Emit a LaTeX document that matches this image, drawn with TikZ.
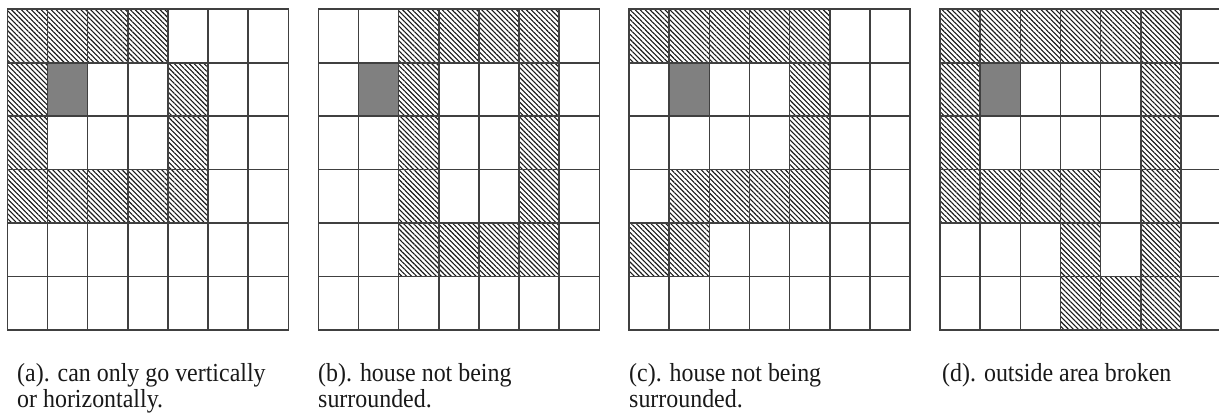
\documentclass[tikz,border=0pt]{standalone}
\usepackage{fontspec}
\setmainfont[FakeStretch=0.92]{Liberation Serif}
\usetikzlibrary{patterns.meta}
\newcommand\gcell[4]{%
  \path[#4] ({#1+#2*40.15},{409.7-#3*53.45}) rectangle ({#1+(#2+1)*40.15},{409.7-(#3+1)*53.45});}
\newcommand\ggrid[1]{%
  \foreach \i in {0,...,7} {\draw[gridline] ({#1+\i*40.15},409.7) -- ({#1+\i*40.15},88.6);}
  \foreach \j in {0,...,6} {\draw[gridline] (#1,{409.7-\j*53.45}) -- ({#1+7*40.15},{409.7-\j*53.45});}}
\begin{document}
\begin{tikzpicture}[x=1pt,y=1pt,
  gridline/.style={draw=black!75, line width=1.6pt, line cap=rect},
  hatchcell/.style={pattern={Lines[angle=-45,distance=3.5pt,line width=1.1pt]}, pattern color=black!90},
  housecell/.style={fill=black!50},
  caption/.style={anchor=north west, inner sep=0pt, align=left, text=black!90,
    font=\fontsize{26}{26.5}\selectfont}
]
\useasboundingbox (0,0) rectangle (1219,419);
\fill[white] (0,0) rectangle (1219,419);

% (a)
\foreach \c/\r in {0/0,1/0,2/0,3/0, 0/1,4/1, 0/2,4/2, 0/3,1/3,2/3,3/3,4/3} {\gcell{7.3}{\c}{\r}{hatchcell}}
\gcell{7.3}{1}{1}{housecell}
\ggrid{7.3}

% (b)
\foreach \c/\r in {2/0,3/0,4/0,5/0, 2/1,5/1, 2/2,5/2, 2/3,5/3, 2/4,3/4,4/4,5/4} {\gcell{318.3}{\c}{\r}{hatchcell}}
\gcell{318.3}{1}{1}{housecell}
\ggrid{318.3}

% (c)
\foreach \c/\r in {0/0,1/0,2/0,3/0,4/0, 4/1, 4/2, 1/3,2/3,3/3,4/3, 0/4,1/4} {\gcell{629}{\c}{\r}{hatchcell}}
\gcell{629}{1}{1}{housecell}
\ggrid{629}

% (d)
\foreach \c/\r in {0/0,1/0,2/0,3/0,4/0,5/0, 0/1,5/1, 0/2,5/2, 0/3,1/3,2/3,3/3,5/3, 3/4,5/4, 3/5,4/5,5/5} {\gcell{940}{\c}{\r}{hatchcell}}
\gcell{940}{1}{1}{housecell}
\ggrid{940}

\node[caption] (capa) at (17,56) {(a). can only go vertically\\or horizontally.};
\node[caption] (capb) at (318,56) {(b). house not being\\surrounded.};
\node[caption] (capc) at (629,56) {(c). house not being\\surrounded.};
\node[caption] (capd) at (942,56) {(d). outside area broken};
\end{tikzpicture}
\end{document}
